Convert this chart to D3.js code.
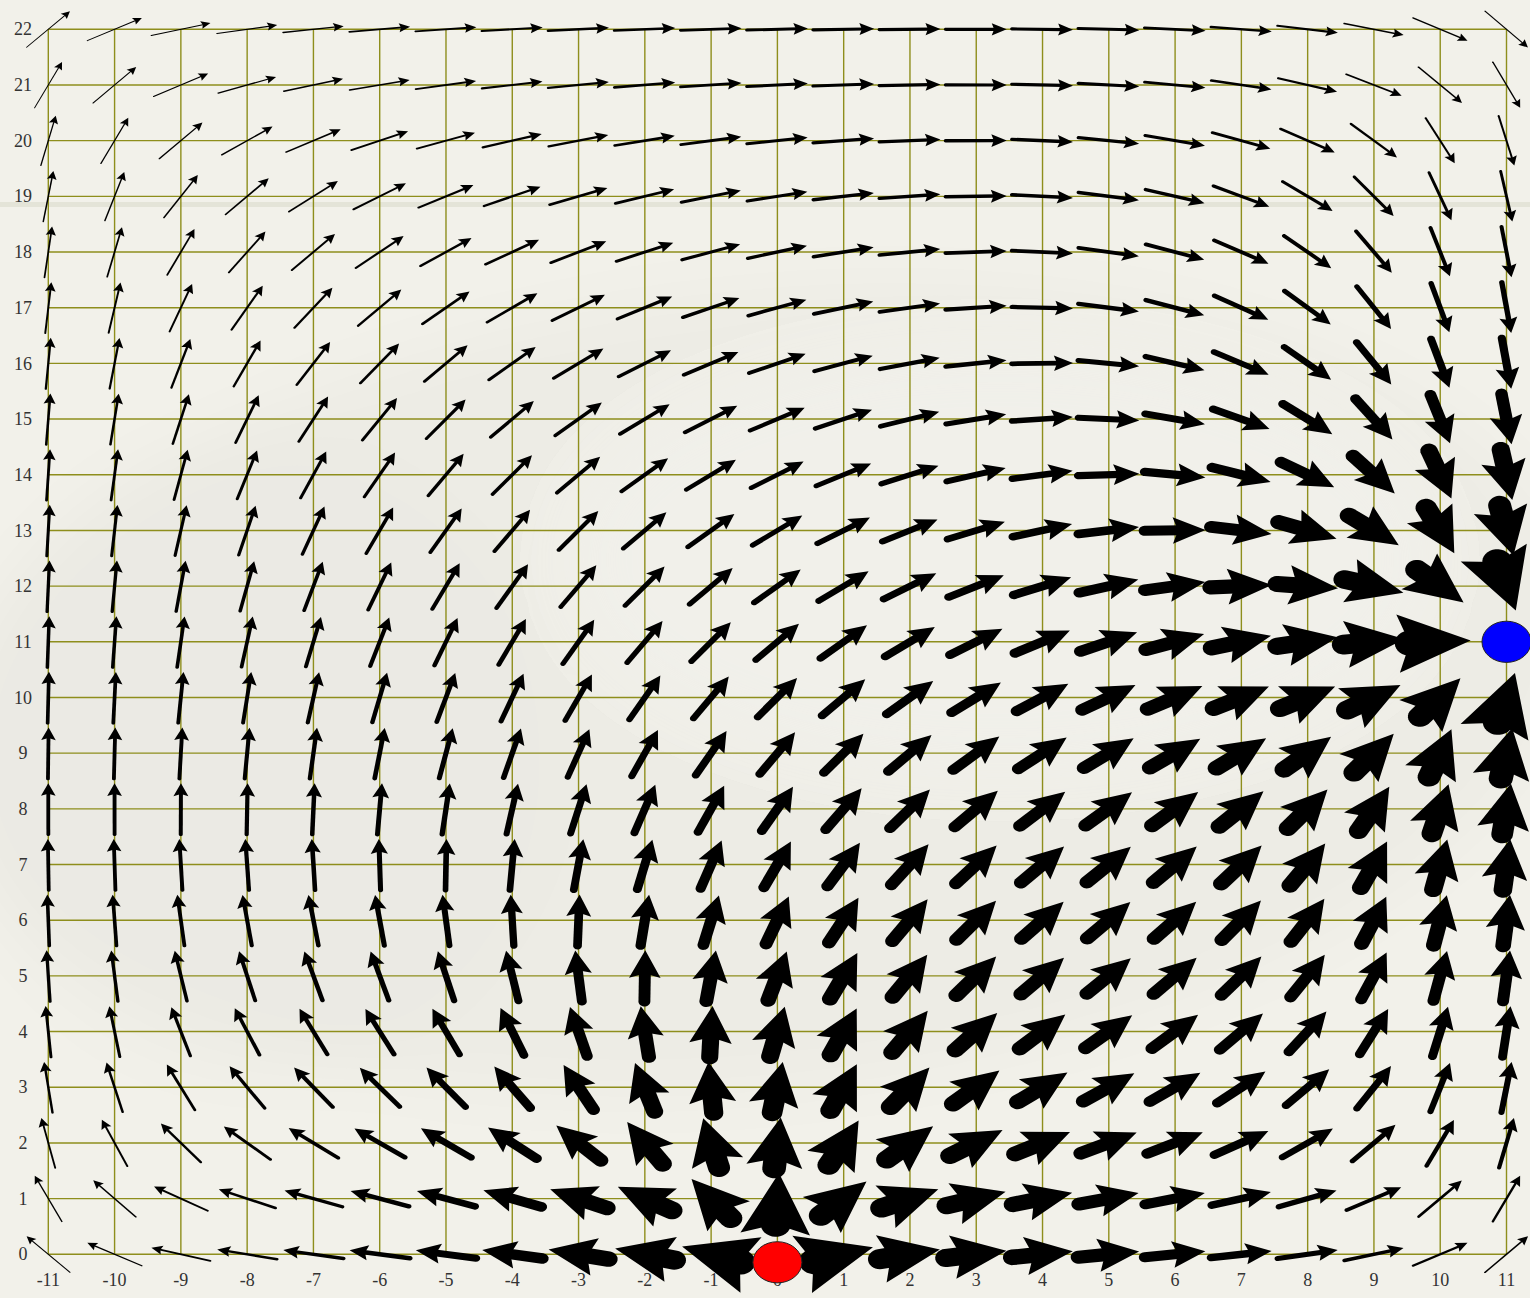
<!DOCTYPE html>
<html>
<head>
<meta charset="utf-8">
<script src="https://cdn.jsdelivr.net/npm/d3@7"></script>
<style>
  html, body { margin: 0; padding: 0; background: #f2f1ea; }
  svg { display: block; }
</style>
</head>
<body>
<svg id="chart" width="1530" height="1298"></svg>
<script>
// Velocity field of potential flow in a closed rectangular tank:
// an inlet (source) on the floor and an outlet (sink) on the right wall.

const xTicks = [-11, -10, -9, -8, -7, -6, -5, -4, -3, -2, -1, 0, 1, 2, 3, 4, 5, 6, 7, 8, 9, 10, 11];
const yTicks = [0, 1, 2, 3, 4, 5, 6, 7, 8, 9, 10, 11, 12, 13, 14, 15, 16, 17, 18, 19, 20, 21, 22];
const tankX = [-11, 11];
const tankY = [0, 22];
const inlets = [{ x: 0, y: 0 }];
const outlets = [{ x: 11, y: 11 }];

const svg = d3.select("#chart");
const x = d3.scaleLinear().domain(tankX).range([48.3, 1506.5]);
const y = d3.scaleLinear().domain(tankY).range([1254.3, 29.3]);

// ---- faint backdrop -------------------------------------------------------
const defs = svg.append("defs");
defs.append("filter").attr("id", "soft").attr("x", "-20%").attr("y", "-20%")
  .attr("width", "140%").attr("height", "140%")
  .append("feGaussianBlur").attr("stdDeviation", 30);

svg.append("rect").attr("width", 1530).attr("height", 1298).attr("fill", "#f2f1ea");
const backdrop = svg.append("g").attr("filter", "url(#soft)");
backdrop.append("ellipse").attr("cx", 760).attr("cy", 690).attr("rx", 820).attr("ry", 400)
  .attr("transform", "rotate(-6 760 690)").attr("fill", "#000").attr("opacity", 0.018);
backdrop.append("ellipse").attr("cx", 260).attr("cy", 760).attr("rx", 300).attr("ry", 320)
  .attr("fill", "#000").attr("opacity", 0.012);
backdrop.append("ellipse").attr("cx", 1000).attr("cy", 560).attr("rx", 420).attr("ry", 200)
  .attr("fill", "#fff").attr("opacity", 0.2);
svg.append("rect").attr("x", 0).attr("y", 202).attr("width", 1530).attr("height", 5)
  .attr("fill", "#d9d8c8").attr("opacity", 0.55);

// ---- grid -----------------------------------------------------------------
const grid = svg.append("g").attr("stroke", "#8e8e1c").attr("stroke-width", 1.4);
grid.selectAll("line.v").data(xTicks).join("line").attr("class", "v")
  .attr("x1", d => x(d)).attr("x2", d => x(d))
  .attr("y1", y(tankY[0])).attr("y2", y(tankY[1]));
grid.selectAll("line.h").data(yTicks).join("line").attr("class", "h")
  .attr("y1", d => y(d)).attr("y2", d => y(d))
  .attr("x1", x(tankX[0])).attr("x2", x(tankX[1]));

// ---- tick labels ----------------------------------------------------------
const labelFont = "'Liberation Serif', 'DejaVu Serif', serif";
svg.append("g").selectAll("text").data(yTicks).join("text")
  .attr("x", 23).attr("y", d => y(d)).attr("dy", "0.34em")
  .attr("text-anchor", "middle").attr("font-family", labelFont)
  .attr("font-size", 18).attr("fill", "#333").text(d => d);
svg.append("g").selectAll("text").data(xTicks).join("text")
  .attr("x", d => x(d)).attr("y", 1286)
  .attr("text-anchor", "middle").attr("font-family", labelFont)
  .attr("font-size", 18).attr("fill", "#333").text(d => d);

// ---- flow potential by the method of images --------------------------------
// Walls are no-flux, so each charge is mirrored across them; the mirror
// pattern repeats with twice the tank size.
const PX = 2 * (tankX[1] - tankX[0]);
const PY = 2 * (tankY[1] - tankY[0]);
const K = 10;
const charges = [];
function addImages(c, q) {
  const xs = [c.x, 2 * tankX[1] - c.x];
  const ys = [c.y, 2 * tankY[1] - c.y];
  for (let i = -K; i <= K; i++)
    for (let j = -K; j <= K; j++)
      for (const ax of xs)
        for (const ay of ys)
          charges.push({ x: ax + i * PX, y: ay + j * PY, q });
}
inlets.forEach(c => addImages(c, 1));
outlets.forEach(c => addImages(c, -1));

const CORE = 0.2;
function potential(px, py) {
  let s = 0;
  for (const c of charges) {
    const dx = px - c.x, dy = py - c.y;
    s += c.q * 0.5 * Math.log(Math.max(dx * dx + dy * dy, CORE * CORE));
  }
  return s;
}

const phi = yTicks.map(yy => xTicks.map(xx => potential(xx, yy)));
const nx = xTicks.length, ny = yTicks.length;

// finite-difference derivative on the tick lattice (one-sided at the walls)
function diff(k, n, get) {
  if (k === 0) return get(1) - get(0);
  if (k === n - 1) return get(n - 1) - get(n - 2);
  return (get(k + 1) - get(k - 1)) / 2;
}

const isCharge = (xx, yy) =>
  inlets.concat(outlets).some(c => c.x === xx && c.y === yy);

const field = [];
for (let i = 0; i < ny; i++) {
  for (let j = 0; j < nx; j++) {
    const xx = xTicks[j], yy = yTicks[i];
    if (isCharge(xx, yy)) continue;
    const u = diff(j, nx, k => phi[i][k]) / 2;
    const v = diff(i, ny, k => phi[k][j]) / 2;
    field.push({ x: xx, y: yy, u, v, m: Math.hypot(u, v) });
  }
}

// ---- arrows ---------------------------------------------------------------
// shaft width grows with speed; head size follows the shaft width
const shaftWidth = d3.scaleLinear()
  .domain([0, 0.03, 0.1, 0.25, 0.4, 1.2])
  .range([0.012, 0.03, 0.085, 0.26, 0.33, 0.46])
  .clamp(true);
const HALF = 0.46;

const P = p => [x(p[0]), y(p[1])];
const line = d3.line();

function arrowPaths(f) {
  const d = [f.u / f.m, f.v / f.m];
  const n = [-d[1], d[0]];
  const s = shaftWidth(f.m);
  const hl = 0.1 + 2.2 * s;
  const hw = 0.1 + 2.1 * s;
  const at = t => [f.x + d[0] * t, f.y + d[1] * t];
  const off = (p, k) => [p[0] + n[0] * k, p[1] + n[1] * k];
  const round = (c, a, r) => [c[0] + (d[0] * Math.cos(a) + n[0] * Math.sin(a)) * r,
                              c[1] + (d[1] * Math.cos(a) + n[1] * Math.sin(a)) * r];

  const tip = at(HALF);
  const back = at(HALF - hl);
  const notch = at(HALF - 0.84 * hl);
  const head = [tip, off(back, hw / 2), notch, off(back, -hw / 2)].map(P);

  const tail = at(-HALF);
  const endT = HALF - 0.7 * hl;
  const r = s / 2;
  const pts = [];
  if (endT > -HALF) {
    const e = at(endT);
    pts.push(off(e, r), off(tail, r));
    for (let a = 1; a < 16; a++) pts.push(round(tail, Math.PI / 2 + (Math.PI * a) / 16, r));
    pts.push(off(tail, -r), off(e, -r));
  } else {
    for (let a = 0; a < 32; a++) pts.push(round(tail, (2 * Math.PI * a) / 32, r));
  }
  return { shaft: line(pts.map(P)) + "Z", head: line(head) + "Z" };
}

const arrows = svg.append("g").attr("fill", "#000");
field.forEach(f => {
  const a = arrowPaths(f);
  arrows.append("path").attr("d", a.shaft);
  arrows.append("path").attr("d", a.head);
});

// ---- inlet and outlet markers ----------------------------------------------
const R = 0.37;
svg.append("g").selectAll("ellipse").data(inlets).join("ellipse")
  .attr("cx", d => x(d.x)).attr("cy", d => y(d.y) + 8)
  .attr("rx", x(R) - x(0)).attr("ry", y(0) - y(R))
  .attr("fill", "#ff0000").attr("stroke", "#222").attr("stroke-width", 1);
svg.append("g").selectAll("ellipse").data(outlets).join("ellipse")
  .attr("cx", d => x(d.x)).attr("cy", d => y(d.y))
  .attr("rx", x(R) - x(0)).attr("ry", y(0) - y(R))
  .attr("fill", "#0000ff").attr("stroke", "#222").attr("stroke-width", 1);
</script>
</body>
</html>
